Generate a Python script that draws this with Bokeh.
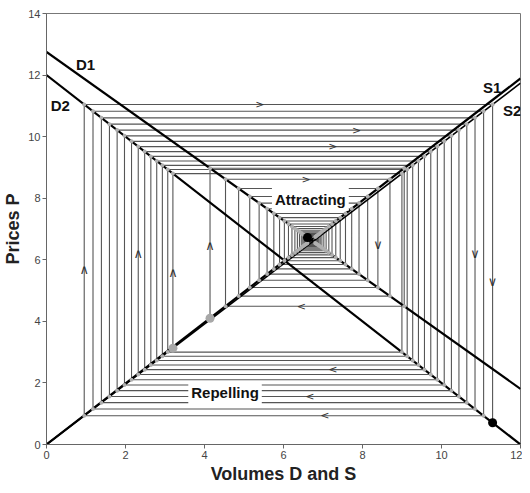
import numpy as np
from bokeh.plotting import figure
from bokeh.models import Range1d, FixedTicker, Label, ColumnDataSource
from bokeh.embed import file_html
from bokeh.resources import INLINE
from bokeh.core.properties import value

# ---- axes ----
x_ticks = [0, 2, 4, 6, 8, 10, 12]
y_ticks = [0, 2, 4, 6, 8, 10, 12, 14]

# ---- demand / supply lines (P = intercept + slope * Q) ----
line_names = ["D1", "D2", "S1", "S2"]
line_intercepts = [12.75, 12.0, 0.0, 0.0]
line_slopes = [-0.912, -1.0, 0.991, 0.978]
line_label_x = [0.99, 0.35, 11.28, 11.79]
line_label_y = [12.35, 11.0, 11.61, 10.84]

# ---- cobweb paths: (demand line, supply line, starting volume, number of steps) ----
repel_lines = ("D2", "S2")
repel_start_q = 3.2
repel_steps = 27
attract_lines = ("D1", "S1")
attract_start_q = 4.14
attract_steps = 40

# arrows: (vertical step index, position along segment, direction) / (horizontal step index, x position)
repel_arrows_v = [(0, 5.6, "up"), (12, 6.2, "up"), (26, 5.7, "up"), (23, 6.2, "down"), (27, 5.3, "down")]
repel_arrows_h = [(26, 5.4), (18, 7.85), (12, 7.25), (9, 7.25), (19, 6.67), (25, 7.05)]
attract_arrows_v = [(0, 6.45, "up"), (5, 6.5, "down")]
attract_arrows_h = [(2, 6.57), (1, 6.45)]

region_labels = ["Attracting", "Repelling"]
region_label_x = [6.68, 4.52]
region_label_y = [7.97, 1.68]

line_par = {n: (a, b) for n, a, b in zip(line_names, line_intercepts, line_slopes)}


def cobweb(dname, sname, q0, n):
    a, b = line_par[dname]
    c = line_par[sname][1]
    qs = [q0]
    xs, ys = [q0], [c * q0]
    q = q0
    for i in range(n + 1):
        p = a + b * q
        xs.append(q)
        ys.append(p)
        if i < n:
            q = p / c
            qs.append(q)
            xs.append(q)
            ys.append(p)
    return xs, ys, qs


p = figure(width=522, height=486, output_backend="svg", toolbar_location=None,
           x_range=Range1d(0, 12), y_range=Range1d(0, 14),
           min_border_left=30, min_border_right=2, min_border_top=13, min_border_bottom=38)
p.xgrid.visible = False
p.ygrid.visible = False
p.outline_line_color = "#777777"
p.outline_line_width = 1
p.background_fill_color = "white"
p.border_fill_color = "white"

for ax in (p.xaxis, p.yaxis):
    ax.axis_line_color = "#666666"
    ax.major_tick_line_color = "#666666"
    ax.major_tick_out = 4
    ax.major_tick_in = 0
    ax.minor_tick_line_color = None
    ax.major_label_text_font = "Liberation Sans"
    ax.major_label_text_font_size = "11px"
    ax.major_label_text_color = "#444444"
    ax.major_label_standoff = 2
    ax.axis_label_text_font = "Liberation Sans"
    ax.axis_label_text_font_style = "bold"
    ax.axis_label_text_font_size = "18px"
    ax.axis_label_text_color = "#222222"
    ax.axis_label_standoff = 2
p.xaxis.ticker = FixedTicker(ticks=x_ticks)
p.yaxis.ticker = FixedTicker(ticks=y_ticks)
p.xaxis.axis_label = "Volumes D and S"
p.yaxis.axis_label = "Prices P"

paths = []
for (dn, sn), q0, n, av, ah in [(repel_lines, repel_start_q, repel_steps, repel_arrows_v, repel_arrows_h),
                                (attract_lines, attract_start_q, attract_steps, attract_arrows_v, attract_arrows_h)]:
    xs, ys, qs = cobweb(dn, sn, q0, n)
    paths.append((xs, ys, qs, dn, sn, av, ah))
    p.line(xs, ys, line_color="#555555", line_width=1.1)

# main lines
for n, a, b in zip(line_names, line_intercepts, line_slopes):
    x_end = 12.0 if a + b * 12 >= 0 else -a / b
    p.line([0, x_end], [a, a + b * x_end], line_color="black",
           line_width=2.2 if n != "S2" else 1.6)

for xs, ys, qs, dn, sn, av, ah in paths:
    p.scatter(xs[1:-1], ys[1:-1], size=4, marker="circle", fill_color="#b0b0b0", line_color=None)

    a, b = line_par[dn]
    vx, vy, vt = [], [], []
    for idx, pos, d in av:
        vx.append(qs[idx]); vy.append(pos); vt.append("\u2227" if d == "up" else "\u2228")
    p.text(vx, vy, text=vt, text_font=value("DejaVu Sans"), text_font_size="13px",
           text_align="center", text_baseline="middle", text_color="#333333")
    hx, hy, ht = [], [], []
    for idx, pos in ah:
        hx.append(pos); hy.append(a + b * qs[idx]); ht.append(">" if idx % 2 == 0 else "<")
    p.text(hx, hy, text=ht, text_font=value("DejaVu Sans"), text_font_size="11px",
           text_align="center", text_baseline="middle", text_color="#333333")

    p.scatter([xs[0]], [ys[0]], size=9, marker="circle", fill_color="#a8a8a8", line_color=None)
    p.scatter([xs[-1]], [ys[-1]], size=9, marker="circle", fill_color="black", line_color=None)

for n, lx, ly in zip(line_names, line_label_x, line_label_y):
    p.add_layout(Label(x=lx, y=ly, text=n, text_font="Liberation Sans", text_font_style="bold",
                       text_font_size="15px", text_align="center", text_baseline="middle",
                       text_color="#111111"))

for t, lx, ly in zip(region_labels, region_label_x, region_label_y):
    p.add_layout(Label(x=lx, y=ly, text=t, text_font="Liberation Sans", text_font_style="bold",
                       text_font_size="15px", text_align="center", text_baseline="middle",
                       text_color="#111111", background_fill_color="white", padding=3))

open("out.html", "w").write(file_html(p, INLINE))
